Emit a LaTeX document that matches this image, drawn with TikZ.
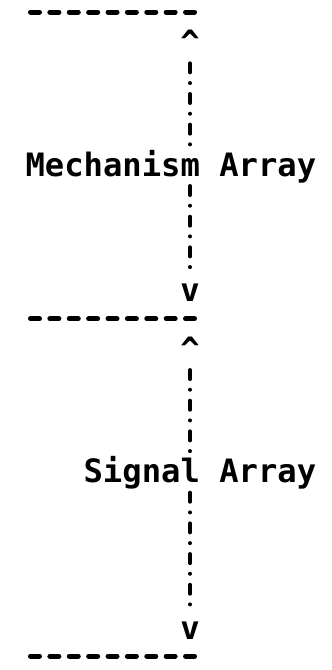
\documentclass[tikz,border=0pt]{standalone}
\usepackage{fontspec}
\newfontfamily\prt{DejaVu Sans Mono}
\tikzset{
  lbl/.style={font=\prt\bfseries\fontsize{32.2}{36}\selectfont, inner sep=0pt, anchor=base west},
  tipchar/.style={font=\prt\bfseries\fontsize{32.2}{36}\selectfont, inner sep=0pt, anchor=base},
  rulerow/.style={line width=5pt, line cap=round, dash pattern=on 9pt off 10.38pt},
  bangline/.style={line width=4pt, line cap=round, dash pattern=on 9pt off 10.7pt on 0pt off 10.97pt},
}
\begin{document}
\begin{tikzpicture}[x=1pt,y=-1pt]
\useasboundingbox (0,0) rectangle (332,670);
% horizontal rules
\coordinate (t0w) at (30.5,12);    \coordinate (t0e) at (194.54,12);
\coordinate (t1w) at (30.5,318.7); \coordinate (t1e) at (194.54,318.7);
\coordinate (t2w) at (30.5,656.1); \coordinate (t2e) at (194.54,656.1);
\draw[rulerow] (t0w) -- (t0e);
\draw[rulerow] (t1w) -- (t1e);
\draw[rulerow] (t2w) -- (t2e);
% labels
\node[lbl] (mech) at (25.3,176.2) {Mechanism Array};
\node[lbl] (sig)  at (83.4,482.9) {Signal Array};
% arrow characters
\node[tipchar] (up1) at (190,53.5)  {\^{}};
\node[tipchar] (dn1) at (190,301.5) {v};
\node[tipchar] (up2) at (190,360.2) {\^{}};
\node[tipchar] (dn2) at (190,639)   {v};
% vertical dotted connectors
\coordinate (a1) at (190,63.34);  \coordinate (a2) at (190,144.9);
\coordinate (b1) at (190,186.02); \coordinate (b2) at (190,267.56);
\coordinate (c1) at (190,370.04); \coordinate (c2) at (190,451.58);
\coordinate (d1) at (190,492.72); \coordinate (d2) at (190,604.93);
\draw[bangline] (a1) -- (a2);
\draw[bangline] (b1) -- (b2);
\draw[bangline] (c1) -- (c2);
\draw[bangline] (d1) -- (d2);
\end{tikzpicture}
\end{document}
